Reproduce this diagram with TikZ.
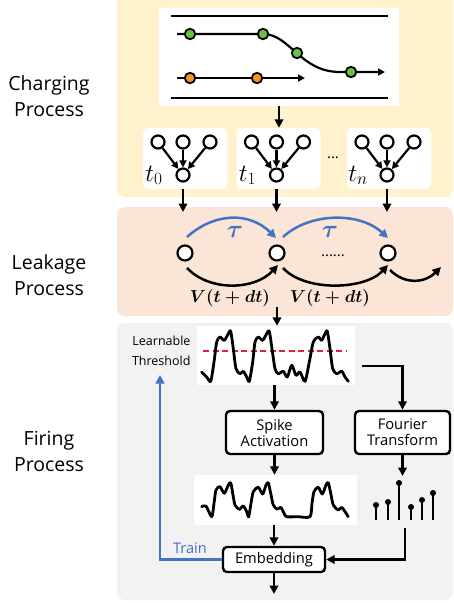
\documentclass[tikz,border=0pt]{standalone}
\usepackage{fontspec}
\setmainfont{Open Sans}
\usepackage{amsmath}
\usetikzlibrary{arrows.meta}
\definecolor{chg}{HTML}{FFF2CC}
\definecolor{lkg}{HTML}{FBE5D6}
\definecolor{frg}{HTML}{F2F2F2}
\definecolor{grn}{HTML}{6DBE45}
\definecolor{org}{HTML}{F7941D}
\definecolor{bl}{HTML}{4472C4}
\definecolor{rd}{HTML}{E0203A}
\begin{document}
\begin{tikzpicture}[x=1pt,y=-1pt,
 arr/.style={-{Triangle[length=8.5pt,width=8.5pt]}, line width=2.5pt},
 sarr/.style={-{Triangle[length=7pt,width=7pt]}, line width=2.2pt},
 circ/.style={circle, draw, line width=2.2pt, fill=white, inner sep=0pt, minimum size=13pt},
 dotc/.style={circle, draw, line width=1.8pt, inner sep=0pt, minimum size=10.5pt},
 procbox/.style={draw, line width=2.4pt, rounded corners=4pt, fill=white, inner sep=0pt, align=center, font=\fontsize{14.7}{16}\selectfont},
 side/.style={align=center, font=\fontsize{19.5}{26}\selectfont},
 wave/.style={line width=2.8pt, line join=round, line cap=round},
 whitebg/.style={fill=white, inner sep=0pt},
]
\useasboundingbox (0,0) rectangle (454,603);
% panels
\fill[chg, rounded corners=8pt] (117,-10) rectangle (453,197);
\fill[lkg, rounded corners=8pt] (117,207) rectangle (453,316);
\fill[frg, rounded corners=8pt] (117,323) rectangle (453,600);
% side labels
\node[side] (lab1) at (49,96) {Charging\\Process};
\node[side] (lab2) at (49,275) {Leakage\\Process};
\node[side] (lab3) at (49,451) {Firing\\Process};
% traffic box
\node[whitebg, minimum width=240pt, minimum height=98pt] (traffic) at (279,57) {};
\draw[line width=2.6pt] (171,16) -- (388,16);
\draw[line width=2.6pt] (171,98) -- (388,98);
\draw[sarr] (177,34) -- (263,34) .. controls (290,34) and (300,72) .. (340,72) -- (385,72);
\draw[sarr] (177,78) -- (305,78);
\node[dotc, fill=grn] (g1) at (190,34) {};
\node[dotc, fill=grn] (g2) at (263,34) {};
\node[dotc, fill=grn] (g3) at (297,53) {};
\node[dotc, fill=grn] (g4) at (351,72) {};
\node[dotc, fill=org] (o1) at (190,78) {};
\node[dotc, fill=org] (o2) at (257,78) {};
% t boxes
\coordinate (lktop) at (0,212);
\foreach \n/\cx/\lab in {0/185/t_0,1/278.5/t_1,n/389/t_n}{
  \node[whitebg, rounded corners=5pt, minimum width=84pt, minimum height=61pt] (b\n box) at (\cx,158.5) {};
  \node[circ] (b\n a) at (\cx-27,142) {};
  \node[circ] (b\n b) at (\cx-2,142) {};
  \node[circ] (b\n c) at (\cx+25,142) {};
  \node[circ] (b\n o) at (\cx-2,175) {};
  \draw[sarr] (b\n a) -- (b\n o);
  \draw[sarr] (b\n b) -- (b\n o);
  \draw[sarr] (b\n c) -- (b\n o);
  \node[anchor=base, font=\fontsize{23}{26}\selectfont, inner sep=0pt] (lb\n) at (\cx-31,181) {$\lab$};
  \draw[arr] (b\n o |- b\n box.south) -- (b\n o |- lktop);
}
\draw[arr] (traffic.south) -- (traffic.south |- b1box.north);
\node[anchor=base, font=\fontsize{15}{18}\selectfont] (cdots) at (333,158) {...};
% leakage
\node[circ, minimum size=15pt] (l0) at (185,253) {};
\node[circ, minimum size=15pt] (l1) at (277,253) {};
\node[circ, minimum size=15pt] (l2) at (388,253) {};
\draw[arr, bl] ([shift={(2,-16)}]l0.center) .. controls (215,212) and (250,212) .. ([shift={(-1,-15)}]l1.center);
\draw[arr, bl] ([shift={(6,-16)}]l1.center) .. controls (310,212) and (360,212) .. ([shift={(0,-15)}]l2.center);
\node[text=bl, font=\fontsize{24}{26}\selectfont] (tau1) at (235,232) {$\boldsymbol{\tau}$};
\node[text=bl, font=\fontsize{24}{26}\selectfont] (tau2) at (330,232) {$\boldsymbol{\tau}$};
\draw[arr] ([shift={(2,15)}]l0.center) .. controls (210,292) and (255,290) .. ([shift={(1,12)}]l1.center);
\draw[arr] ([shift={(6,15)}]l1.center) .. controls (305,292) and (365,290) .. ([shift={(0,12)}]l2.center);
\coordinate (lkend) at (441,267);
\draw[arr] ([shift={(2,17)}]l2.center) .. controls (405,285) and (425,283) .. (lkend);
\node[anchor=base, font=\fontsize{15}{18}\selectfont] (ldots) at (333,256) {......};
\node[font=\fontsize{16.5}{18}\selectfont] (v1) at (230,298) {$\boldsymbol{V(t+dt)}$};
\node[font=\fontsize{16.5}{18}\selectfont] (v2) at (330,298) {$\boldsymbol{V(t+dt)}$};
% firing
\node[whitebg, minimum width=158pt, minimum height=59pt] (wave1) at (276,355.5) {};
\coordinate (lkout) at (277,307);
\draw[arr] (lkout) -- (lkout |- wave1.north);
\draw[rd, line width=1.8pt, dash pattern=on 6pt off 3.5pt] (203,351) -- (347,351);
\draw[wave] plot[smooth, tension=0.45] coordinates {(201.7,372) (206.7,377) (210.7,381.3) (214,362) (216.7,342) (220,337) (224.3,340.3) (228.3,333.7) (230.7,331.3) (233.3,348.7) (236,368.7) (240,373.7) (243.3,371.3) (246.7,377) (249.3,381.3) (252.7,362) (255,342) (258.3,337) (262.7,340.3) (266.7,333.7) (269.3,331.3) (272,348.7) (275,368.7) (278.3,373.7) (283.3,371.3) (287.3,377) (291.7,365.3) (296,375.3) (300,372) (305,381.3) (309.3,362) (313.3,342) (318.3,337) (321.7,340.3) (325,333.7) (327.3,331.3) (330,348.7) (332.7,368.7) (336.7,373.7) (341.7,371.3) (345,377) (348.3,381.3)};
\node[align=right, anchor=east, font=\fontsize{12.5}{20}\selectfont] (lt) at (194,351) {Learnable\\Threshold};
\node[procbox, minimum width=97pt, minimum height=43pt] (spike) at (274.5,432.5) {Spike\\Activation};
\node[procbox, minimum width=95pt, minimum height=43pt] (fourier) at (402.5,432.5) {Fourier\\Transform};
\node[whitebg, minimum width=163pt, minimum height=50pt] (wave2) at (275.5,500) {};
\draw[wave] plot[smooth, tension=0.45] coordinates {(201.7,506.7) (206,506) (211.7,516.7) (214,503.3) (216,490) (220,486.7) (224.3,493.3) (228.3,485) (230.7,482.7) (232.7,493.3) (235,505) (239.3,509.3) (243.3,506) (246.7,511.7) (248.7,516.7) (251,503.3) (253.3,491.7) (258.3,487.3) (262.7,494) (266,485) (268.3,482.7) (270.7,493.3) (273.3,505) (277.3,509.3) (280.7,507.3) (284,513.3) (286.7,516.7) (298,516.7) (310,516.7) (312,503.3) (314,491.7) (318.3,487.3) (322.3,494) (326,485) (328.3,482.7) (330.7,493.3) (333.3,505) (338.3,510) (341.7,507.3) (345,511.7) (348.3,516.7)};
\node[procbox, minimum width=102pt, minimum height=25pt] (emb) at (274,559.5) {Embedding};
\draw[arr] (wave1.south -| spike) -- (spike.north);
\coordinate (wr) at (362,366);
\draw[arr] (wr) -| (fourier.north);
\draw[arr] (spike.south) -- (spike.south |- wave2.north);
\draw[arr] (wave2.south -| emb) -- (emb.north);
\coordinate (out) at (274,594);
\draw[arr] (emb.south) -- (out);
\coordinate (fin) at (403,476);
\draw[arr] (fourier.south) -- (fourier.south |- fin);
\foreach \x/\t in {376/505,388/502,399/483,411/507,422/500,433/493}{
  \draw[line width=2.8pt] (\x,520) -- (\x,\t);
  \fill (\x,\t) circle (3pt);
}
\coordinate (sb) at (405,528);
\draw[arr] (sb) |- (emb.east);
\coordinate (tr) at (160,375);
\draw[arr, bl] (emb.west) -| (tr);
\node[text=bl, font=\fontsize{14.6}{18}\selectfont] (train) at (190,548) {Train};
\end{tikzpicture}
\end{document}
